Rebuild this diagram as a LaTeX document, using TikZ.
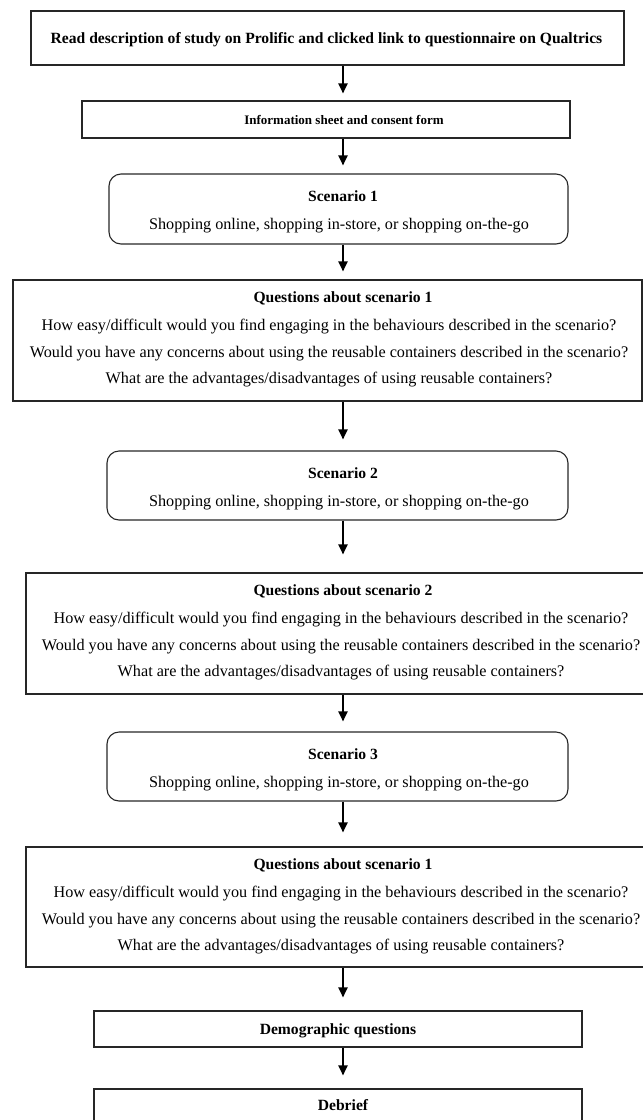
\documentclass[tikz,border=0pt]{standalone}
\usepackage{fontspec}
\setmainfont{Liberation Serif}
\usetikzlibrary{arrows.meta}
\begin{document}
\begin{tikzpicture}[x=1pt,y=-1pt,
  box/.style={draw=black!85, line width=1.1pt, inner sep=0pt},
  rbox/.style={box, rounded corners=12pt},
  tb/.style={font=\fontsize{15.6}{18}\selectfont\bfseries, inner sep=0pt},
  tbs/.style={font=\fontsize{13}{15}\selectfont\bfseries, inner sep=0pt},
  tr/.style={font=\fontsize{16.2}{19}\selectfont, inner sep=0pt},
  arr/.style={line width=2pt, -{Triangle[length=10pt,width=9pt]}},
]
\useasboundingbox (0,0) rectangle (643,1120);
\coordinate (ax) at (343,0);

% boxes
\node[box,  minimum width=593pt, minimum height=54pt]  (b1) at (327.5,38) {};
\node[box,  minimum width=488pt, minimum height=37pt]  (b2) at (326,119.5) {};
\node[rbox, minimum width=459pt, minimum height=70pt]  (s1) at (338.5,209) {};
\node[box,  minimum width=629pt, minimum height=121pt] (q1) at (327.5,340.5) {};
\node[rbox, minimum width=461pt, minimum height=69pt]  (s2) at (337.5,485.5) {};
\node[box,  minimum width=634pt, minimum height=121pt] (q2) at (343,633.5) {};
\node[rbox, minimum width=461pt, minimum height=69pt]  (s3) at (337.5,766.5) {};
\node[box,  minimum width=634pt, minimum height=120pt] (q3) at (343,907) {};
\node[box,  minimum width=488pt, minimum height=36pt]  (dm) at (338,1029) {};
\node[box,  minimum width=488pt, minimum height=71pt]  (db) at (338,1124.5) {};

% texts
\node[tb, anchor=base] (t1) at (326.5,43) {Read description of study on Prolific and clicked link to questionnaire on Qualtrics};
\node[tbs, anchor=base] (t2) at (344,124.5) {Information sheet and consent form};

\node[tb, anchor=base] (s1a) at (343,201) {Scenario 1};
\node[tr, anchor=base] (s1b) at (339,229) {Shopping online, shopping in-store, or shopping on-the-go};

\node[tb, anchor=base] (q1a) at (343,302) {Questions about scenario 1};
\node[tr, anchor=base] (q1b) at (329,330) {How easy/difficult would you find engaging in the behaviours described in the scenario?};
\node[tr, anchor=base] (q1c) at (329,357) {Would you have any concerns about using the reusable containers described in the scenario?};
\node[tr, anchor=base] (q1d) at (329,383) {What are the advantages/disadvantages of using reusable containers?};

\node[tb, anchor=base] (s2a) at (343,478) {Scenario 2};
\node[tr, anchor=base] (s2b) at (339,506) {Shopping online, shopping in-store, or shopping on-the-go};

\node[tb, anchor=base] (q2a) at (343,595) {Questions about scenario 2};
\node[tr, anchor=base] (q2b) at (341,623) {How easy/difficult would you find engaging in the behaviours described in the scenario?};
\node[tr, anchor=base] (q2c) at (341,650) {Would you have any concerns about using the reusable containers described in the scenario?};
\node[tr, anchor=base] (q2d) at (341,676) {What are the advantages/disadvantages of using reusable containers?};

\node[tb, anchor=base] (s3a) at (343,759) {Scenario 3};
\node[tr, anchor=base] (s3b) at (339,787) {Shopping online, shopping in-store, or shopping on-the-go};

\node[tb, anchor=base] (q3a) at (343,869) {Questions about scenario 1};
\node[tr, anchor=base] (q3b) at (341,897) {How easy/difficult would you find engaging in the behaviours described in the scenario?};
\node[tr, anchor=base] (q3c) at (341,924) {Would you have any concerns about using the reusable containers described in the scenario?};
\node[tr, anchor=base] (q3d) at (341,950) {What are the advantages/disadvantages of using reusable containers?};

\node[tb, anchor=base] (dmt) at (338,1034) {Demographic questions};
\node[tb, anchor=base] (dbt) at (343,1110) {Debrief};

% arrows
\draw[arr, shorten >=7pt]  (b1.south -| ax) -- (b2.north -| ax);
\draw[arr, shorten >=8pt]  (b2.south -| ax) -- (s1.north -| ax);
\draw[arr, shorten >=8pt]  (s1.south -| ax) -- (q1.north -| ax);
\draw[arr, shorten >=11pt] (q1.south -| ax) -- (s2.north -| ax);
\draw[arr, shorten >=18pt] (s2.south -| ax) -- (q2.north -| ax);
\draw[arr, shorten >=10pt] (q2.south -| ax) -- (s3.north -| ax);
\draw[arr, shorten >=14pt] (s3.south -| ax) -- (q3.north -| ax);
\draw[arr, shorten >=13pt] (q3.south -| ax) -- (dm.north -| ax);
\draw[arr, shorten >=13pt] (dm.south -| ax) -- (db.north -| ax);
\end{tikzpicture}
\end{document}
